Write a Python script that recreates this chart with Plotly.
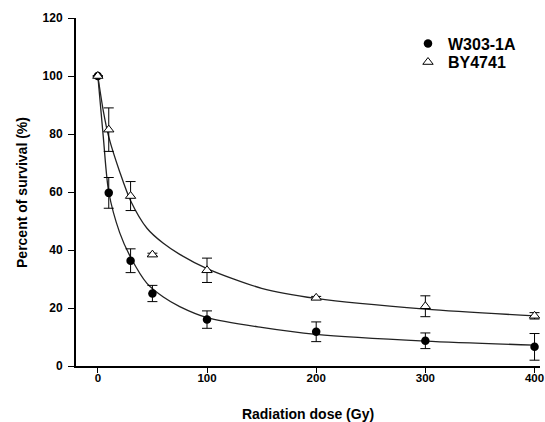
import plotly.graph_objects as go

# measured points
dose = [0, 10, 30, 50, 100, 200, 300, 400]
w303 = [100, 59.7, 36.3, 25.0, 16.0, 11.8, 8.7, 6.6]
w303_err = [0, 5.3, 4.1, 2.8, 3.0, 3.4, 2.7, 4.6]
by4741 = [100, 81.5, 58.6, 38.4, 33.0, 23.5, 20.6, 17.3]
by4741_err = [0, 7.5, 5.0, 0.5, 4.2, 0.5, 3.6, 1.1]

# fitted curves
fit_dose = [0, 5, 10, 20, 30, 45, 60, 75, 100, 150, 200, 300, 400]
w303_fit = [100, 79, 60, 46, 37.5, 28.5, 23.8, 20.5, 16.7, 13.3, 10.9, 8.6, 7.2]
by4741_fit = [100, 88, 79, 67, 57, 47.5, 42.3, 38.5, 33.6, 26.8, 23.3, 19.6, 17.3]

FONT = "Arial, Liberation Sans, sans-serif"

fig = go.Figure()

for y in (w303_fit, by4741_fit):
    fig.add_trace(go.Scatter(
        x=fit_dose, y=y, mode="lines",
        line=dict(color="#222222", width=1.3, shape="spline", smoothing=0.8),
        showlegend=False, hoverinfo="skip"
    ))

fig.add_trace(go.Scatter(
    x=dose, y=w303, mode="markers", name="<b>W303-1A</b>", legend="legend",
    marker=dict(symbol="circle", size=8.5, color="black"),
    error_y=dict(type="data", array=w303_err, color="black", thickness=1, width=5)
))
fig.add_trace(go.Scatter(
    x=dose, y=by4741, mode="markers", name="<b>BY4741</b>", legend="legend2",
    marker=dict(symbol="triangle-up", size=9, color="white",
                line=dict(color="black", width=1)),
    error_y=dict(type="data", array=by4741_err, color="black", thickness=1, width=5)
))

leg = dict(xanchor="left", yanchor="top", bgcolor="rgba(0,0,0,0)",
           font=dict(size=16), itemwidth=30)

fig.update_layout(
    width=545, height=422,
    margin=dict(l=76, r=5, t=18, b=56),
    paper_bgcolor="white", plot_bgcolor="white",
    font=dict(family=FONT, color="black", size=12),
    legend=dict(x=0.7155, y=0.975, **leg),
    legend2=dict(x=0.7155, y=0.922, **leg),
    xaxis=dict(
        range=[-20, 405], tickvals=[0, 100, 200, 300, 400], automargin=False,
        showline=True, linecolor="black", linewidth=2, showgrid=False, zeroline=False,
        ticks="outside", ticklen=5, tickcolor="black", tickwidth=1,
        tickfont=dict(size=11.5, weight="bold"), ticklabelstandoff=-5,
        title=dict(text="<b>Radiation dose (Gy)</b>", font=dict(size=14), standoff=31)
    ),
    yaxis=dict(
        range=[0, 120], tickvals=[0, 20, 40, 60, 80, 100, 120], automargin=False,
        showline=True, linecolor="black", linewidth=2, showgrid=False, zeroline=False,
        ticks="outside", ticklen=6, tickcolor="black", tickwidth=1,
        tickfont=dict(size=12, weight="bold"), ticklabelstandoff=3,
    ),
    annotations=[dict(
        text="<b>Percent of survival (%)</b>", textangle=-90,
        xref="paper", yref="paper", x=-0.1164, y=0.5,
        xanchor="center", yanchor="middle", showarrow=False,
        font=dict(size=14)
    )],
)

# drop the default page margin so the figure sits at the window's top-left corner
fig.write_html("out.html", config={"displayModeBar": False},
               post_script="document.body.style.margin='0';document.body.style.overflow='hidden';")
